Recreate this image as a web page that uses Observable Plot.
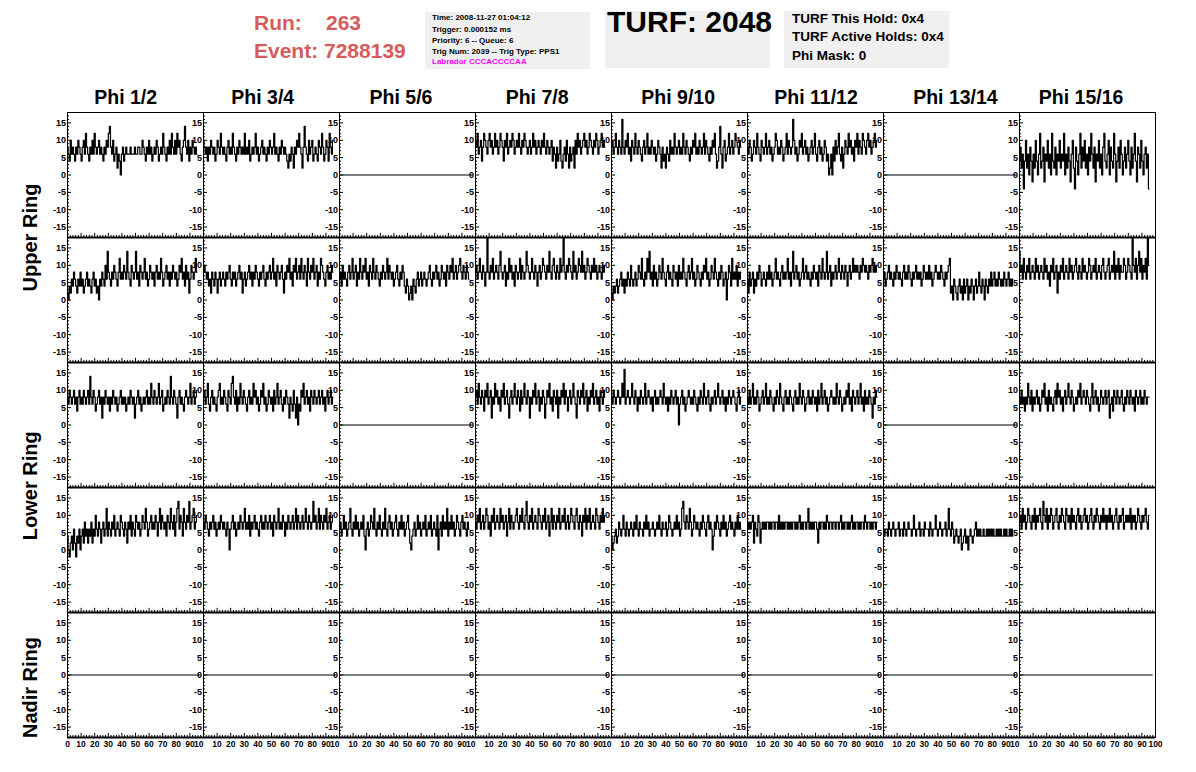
<!DOCTYPE html>
<html><head><meta charset="utf-8">
<script src="https://cdn.jsdelivr.net/npm/d3@7"></script>
<script src="https://cdn.jsdelivr.net/npm/@observablehq/plot@0.6"></script>
<style>
body{margin:0;background:#fff;font-family:"Liberation Sans",Arial,Helvetica,sans-serif;}
#wrap{position:relative;width:1196px;height:772px;overflow:hidden;background:#fff;}
#wrap svg{position:absolute;left:0;top:0;}
.abs{position:absolute;white-space:pre;font-weight:bold;line-height:1;}
.box{position:absolute;background:#f0f0f0;}
.run{color:#d65c5c;font-size:21px;}
.info{font-size:8px;color:#000;}
.turf{font-size:30px;color:#000;}
.hold{font-size:13.5px;color:#000;}
</style></head><body>
<div id="wrap">
  <div class="abs run" style="left:254px;top:12px">Run:</div>
  <div class="abs run" style="left:326px;top:12px">263</div>
  <div class="abs run" style="left:254px;top:40px">Event: 7288139</div>
  <div class="box" style="left:425px;top:12px;width:165px;height:57px"></div>
  <div class="abs info" style="left:432px;top:14px">Time: 2008-11-27 01:04:12</div>
  <div class="abs info" style="left:432px;top:25.5px">Trigger: 0.000152 ms</div>
  <div class="abs info" style="left:432px;top:37px">Priority: 6 -- Queue: 6</div>
  <div class="abs info" style="left:432px;top:48px">Trig Num: 2039 -- Trig Type: PPS1</div>
  <div class="abs info" style="left:432px;top:57.5px;color:#ff00ff">Labrador CCCACCCCAA</div>
  <div class="box" style="left:605px;top:11px;width:165px;height:57px"></div>
  <div class="abs turf" style="left:607px;top:6.5px">TURF: 2048</div>
  <div class="box" style="left:784px;top:11px;width:165px;height:57px"></div>
  <div class="abs hold" style="left:792px;top:12px">TURF This Hold: 0x4</div>
  <div class="abs hold" style="left:792px;top:30.3px">TURF Active Holds: 0x4</div>
  <div class="abs hold" style="left:792px;top:48.6px">Phi Mask: 0</div>
</div>
<script>
// ---------------- data ----------------
const columns = ["Phi 1/2","Phi 3/4","Phi 5/6","Phi 7/8","Phi 9/10","Phi 11/12","Phi 13/14","Phi 15/16"];
const ringLabels = ["Upper Ring","Lower Ring","Nadir Ring"];
const yTickValues = [-15,-10,-5,0,5,10,15];
const xTickValues = [0,10,20,30,40,50,60,70,80,90,100];
const sampleStep = 0.8;       // ns per sample
const deadChannelEnd = 97.6;  // length of a dead (flat) channel trace

// Upper ring, first row of panels (null = dead channel, flat at 0)
const upperTopWaves = [
`8 6 4 10 6 8 6 4 8 6 10 8 6 4 8 10 6 12 8 6
4 8 6 10 6 12 8 6 8 10 6 8 6 4 8 6 10 8 12 14
8 6 10 4 6 8 2 6 4 0 6 8 4 6 8 6 6 6 8 6
6 6 8 6 6 8 8 6 6 10 8 6 4 8 6 10 6 8 4 6
8 6 10 8 4 6 8 6 12 8 6 4 8 6 10 6 12 8 6 10
6 12 8 10 6 4 8 10 14 8 6 10 4 8 6 10 8 6 8 6`,
`10 8 6 8 4 8 6 10 8 6 8 4 6 10 8 6 12 8 6 8
6 4 8 10 6 8 6 12 8 6 4 8 6 10 8 6 8 6 12 6
8 6 10 4 6 8 6 8 12 6 8 4 6 8 10 6 8 6 4 8
6 10 8 6 8 12 6 8 6 4 8 6 10 8 6 8 6 4 2 6
4 8 6 2 8 6 10 8 12 8 6 2 8 14 8 6 4 10 6 8
10 4 6 8 6 4 10 8 6 12 8 4 6 10 8 4 12 8 6 10`,
null,
`10 8 12 6 8 10 4 8 12 10 8 6 10 12 8 10 6 8 12 8
10 6 8 12 10 8 4 10 8 12 6 8 10 8 12 10 6 8 10 8
12 8 6 10 8 12 10 8 6 8 10 6 8 12 8 10 6 8 10 8
6 10 8 12 8 6 10 8 6 8 10 4 8 6 2 8 4 6 10 4
2 6 8 4 10 6 2 8 4 6 8 2 10 6 12 8 10 6 8 10
12 8 10 6 8 12 10 8 6 10 8 12 10 6 8 10 12 8 10 8`,
`8 10 6 8 12 8 6 10 8 6 16 8 6 10 8 12 6 8 4 10
8 6 12 8 6 10 8 6 4 8 10 6 8 12 6 8 6 10 8 6
8 4 6 10 8 6 2 8 4 6 2 8 6 4 10 6 8 6 12 8
6 8 10 6 8 6 12 8 6 10 8 6 4 8 6 10 8 12 6 8
6 10 8 6 8 12 6 10 8 6 4 8 6 10 8 12 6 2 4 8
14 6 2 8 10 4 6 8 12 6 8 10 6 8 12 10 8 6 10 8`,
`8 6 10 8 4 6 10 8 6 12 8 6 4 10 8 6 8 12 6 8
10 6 8 4 6 8 12 10 6 8 6 10 8 4 6 8 12 6 10 8
6 8 16 10 6 8 4 6 10 8 12 6 8 10 6 8 4 6 8 10
6 8 12 6 4 8 10 6 8 4 6 10 8 4 6 0 2 6 0 8
4 10 6 8 12 6 4 8 2 6 10 8 6 12 8 10 6 8 4 10
8 12 6 10 8 6 12 10 8 6 10 12 8 10 6 8 10 12 8 10`,
null,
`4 8 2 6 -4 4 10 2 6 0 8 4 -2 6 2 10 4 0 6 12
2 4 8 -2 6 4 10 2 6 0 12 4 2 8 0 6 4 10 2 6
4 12 0 6 2 8 4 -2 6 10 2 -4 8 4 0 6 12 2 8 4
10 2 6 0 8 4 12 6 2 8 -2 6 4 10 2 6 0 8 12 4
2 6 10 0 8 4 2 12 6 -2 4 8 2 10 6 0 4 8 2 6
10 4 0 8 2 6 12 4 -2 8 6 2 10 4 0 6 8 2 6 -4`
];

// Upper ring, second row of panels
const upperBottomWaves = [
`2 0 4 2 6 4 8 6 4 2 6 4 8 4 6 2 4 6 8 4
6 4 2 6 8 4 6 2 4 0 6 4 8 6 4 10 6 14 8 6
4 8 6 10 8 6 4 8 12 6 8 6 10 8 6 14 8 6 4 10
8 6 8 14 6 8 4 10 8 6 8 12 6 8 4 6 10 8 6 8
4 8 10 6 8 6 12 8 4 6 8 10 6 8 4 8 6 10 8 6
8 4 6 10 8 12 6 8 4 10 6 8 2 6 10 8 6 8 12 8`,
`8 10 8 6 8 4 6 2 8 6 4 8 6 2 6 8 4 6 8 6
4 8 6 8 10 6 4 8 6 8 4 6 8 10 6 8 2 6 8 4
6 8 10 6 8 4 8 6 10 8 6 4 8 6 8 10 6 4 8 6
8 10 6 8 12 6 8 4 10 8 6 8 10 6 2 8 6 10 8 12
6 8 4 10 8 12 6 8 10 6 12 8 6 10 8 4 12 8 6 10
8 12 6 8 10 4 8 6 12 10 8 6 4 8 10 6 8 6 10 8`,
`6 8 4 10 6 8 6 4 8 10 6 8 12 6 8 10 4 8 6 12
8 6 10 8 12 6 8 4 10 8 6 12 8 6 10 8 6 4 8 6
10 8 6 8 12 6 10 8 6 8 4 6 8 10 6 4 8 6 10 8
4 2 6 4 0 2 4 0 6 4 2 6 8 4 6 8 4 6 8 6
4 6 8 10 6 4 8 6 8 10 6 8 4 6 10 8 6 8 4 10
8 6 10 8 12 6 8 10 6 8 10 12 8 6 10 8 6 10 8 6`,
`8 10 6 8 12 8 6 10 8 4 8 18 8 6 10 8 12 6 8 10
8 6 10 14 8 6 8 10 4 8 6 12 8 10 6 8 4 10 8 6
8 12 6 10 8 6 8 14 10 8 6 8 12 8 6 10 8 4 8 10
6 8 12 10 8 6 10 8 14 8 6 10 12 8 6 10 8 6 12 8
10 18 8 6 10 8 12 10 8 6 14 8 10 6 8 12 10 8 14 8
10 6 8 12 10 8 6 10 8 12 8 10 6 8 10 8 6 10 8 10`,
`2 0 4 2 4 6 2 4 6 8 4 6 2 6 4 8 6 4 10 6
4 6 8 4 6 10 8 6 12 6 4 8 6 12 8 14 6 8 4 10
6 8 4 6 10 8 6 12 8 6 4 8 10 6 8 6 4 10 8 6
8 4 10 6 8 6 12 8 6 4 8 10 6 8 12 6 8 4 6 10
8 6 4 8 6 10 8 12 6 8 4 6 10 8 6 12 8 6 4 8
6 10 8 4 6 8 0 6 10 8 4 12 6 8 6 10 4 8 6 8`,
`6 2 8 4 6 8 2 6 4 8 6 10 8 4 6 8 6 4 8 6
10 6 8 4 6 8 12 6 8 6 4 8 10 6 8 6 8 12 6 8
4 8 14 6 8 10 6 8 4 6 8 12 6 8 10 6 8 6 4 8
6 10 8 6 8 4 10 8 6 12 8 6 8 14 6 8 10 4 8 6
8 10 6 8 12 8 6 10 8 6 10 8 4 8 10 6 8 12 8 10
8 10 8 6 10 8 12 10 8 10 8 6 10 8 10 12 8 10 8 10`,
`6 8 4 6 8 10 6 8 6 4 8 6 10 8 6 8 6 4 8 10
6 8 6 10 8 6 4 8 6 8 10 6 8 6 8 4 6 10 8 6
8 6 10 6 8 4 6 8 10 8 6 8 6 10 8 6 4 8 6 8
10 12 2 4 0 6 4 2 0 4 6 2 4 0 6 2 4 6 0 4
2 6 4 0 4 6 2 4 8 4 2 6 4 0 6 4 2 6 4 8
4 6 8 4 6 4 8 6 4 6 4 8 6 4 6 8 4 6 4 6`,
`14 8 10 6 12 8 6 10 8 12 6 8 10 8 6 12 8 10 6 8
10 8 6 12 8 10 6 8 4 10 8 12 6 8 10 2 8 6 10 8
12 6 8 10 8 6 12 8 10 6 8 10 12 8 6 10 8 6 12 8
10 8 6 8 12 10 6 8 10 8 12 6 8 10 8 6 10 12 8 6
8 10 12 6 8 10 8 14 6 10 8 12 6 10 8 8 12 10 6 8
12 10 8 6 18 10 8 12 6 10 14 8 12 6 10 8 12 6 18 10`
];

// Lower ring, first row of panels
const lowerTopWaves = [
`8 6 10 8 6 8 10 6 8 4 8 10 6 8 6 10 8 6 8 10
6 14 8 6 10 8 4 6 8 10 6 8 2 8 6 10 8 6 8 4
8 6 10 8 6 8 4 6 8 10 6 8 6 8 4 6 8 6 10 8
6 8 2 6 8 10 6 8 4 6 8 6 8 10 6 8 6 12 8 6
10 8 6 8 12 6 8 10 4 6 8 6 10 8 6 14 8 6 10 8
6 2 8 10 6 8 6 4 8 10 8 6 8 12 6 8 10 6 8 10`,
`8 10 6 8 12 6 4 8 10 6 8 6 4 8 10 12 6 8 6 10
8 6 4 10 8 6 12 14 8 6 10 4 8 6 12 8 6 10 8 6
4 8 10 6 8 6 12 8 10 6 8 4 6 10 8 12 6 8 4 6
10 8 6 8 4 10 6 8 12 6 8 10 6 4 8 6 10 8 6 2
8 6 4 10 6 2 8 0 6 4 10 8 12 6 8 10 6 8 4 10
8 6 10 8 6 8 10 6 8 10 6 8 4 8 10 6 8 10 6 8`,
null,
`8 10 6 12 8 6 10 8 4 10 8 12 6 8 10 2 8 6 12 8
10 6 8 4 10 8 12 6 8 10 6 2 8 10 6 8 12 8 6 10
8 4 10 6 8 12 8 6 10 8 2 8 6 10 8 12 6 8 10 4
8 6 10 8 2 6 10 8 12 6 8 4 10 8 6 10 2 8 6 10
8 12 6 10 8 4 8 10 6 8 12 8 6 2 10 8 6 10 8 12
6 8 10 4 8 6 10 8 12 6 8 10 6 8 4 10 8 6 10 8`,
`8 6 10 8 6 8 10 8 6 8 12 8 16 6 8 10 8 6 8 12
8 6 10 8 4 8 6 10 8 6 8 12 6 8 10 8 6 8 4 8
10 6 8 6 8 10 8 6 12 8 6 8 4 8 6 10 8 6 8 10
6 8 0 6 8 10 6 8 4 6 8 10 8 6 8 6 10 8 6 4
8 6 10 8 6 12 8 6 8 10 6 4 8 6 8 10 6 8 12 8
6 8 10 6 8 4 8 6 10 8 6 8 10 8 6 4 8 10 6 8`,
`8 6 10 6 8 12 6 8 6 10 8 4 6 8 10 6 8 12 6 8
6 10 8 6 4 8 6 10 8 6 12 8 6 4 8 10 6 8 6 10
8 6 4 8 10 6 8 6 12 8 6 10 8 4 6 8 10 6 8 6
10 8 6 8 4 10 6 8 12 6 8 10 6 8 4 6 8 10 8 6
8 6 12 8 6 10 8 4 6 8 6 10 8 12 6 8 4 10 8 6
8 10 6 8 12 6 8 4 10 6 8 6 10 8 6 2 8 6 10 8`,
null,
`8 6 10 6 8 4 8 6 12 8 6 10 4 8 6 8 10 6 8 4
6 10 8 12 6 8 4 10 6 8 6 4 8 10 6 12 8 10 6 8
4 8 10 6 8 12 8 6 10 8 4 6 8 6 10 8 12 6 8 10
8 6 10 8 6 4 8 12 6 8 10 6 8 4 6 10 8 6 8 10
6 8 10 2 6 8 4 10 8 6 10 8 6 8 10 6 4 8 6 10
8 6 10 8 6 8 4 10 8 6 8 10 6 8 6 10 8 6 8 8`
];

// Lower ring, second row of panels
const lowerBottomWaves = [
`4 0 -2 2 4 0 6 2 -2 4 2 6 0 4 6 2 8 4 6 2
6 4 8 2 6 4 10 6 4 8 6 2 6 8 4 6 12 4 8 6
4 8 6 10 4 6 8 6 4 10 8 6 4 8 6 2 8 6 10 4
8 6 4 10 8 6 8 4 6 10 8 6 12 8 4 6 8 10 6 8
6 10 8 4 8 12 6 10 8 6 8 4 10 8 6 12 8 6 10 4
8 12 14 6 10 8 4 12 8 6 10 8 14 6 8 10 12 6 8 10`,
`8 6 10 8 6 4 8 6 8 10 6 8 4 6 8 6 10 8 6 8
6 4 8 6 0 6 8 10 6 8 4 6 8 6 10 8 6 8 12 6
8 6 10 4 8 6 8 10 6 8 6 4 8 10 6 8 6 10 8 6
8 10 6 8 4 10 8 6 8 12 6 8 6 10 8 4 8 6 10 8
6 8 10 6 8 12 6 10 8 6 8 10 6 8 12 8 6 10 8 6
8 14 8 10 6 8 12 6 10 8 6 10 8 12 6 8 10 6 8 10`,
`6 8 4 6 10 6 8 4 6 8 12 6 4 8 6 10 6 8 4 6
8 6 10 4 0 6 8 4 6 10 8 6 12 6 4 8 6 10 6 4
8 6 12 6 4 8 10 6 8 4 6 8 10 6 4 8 6 10 6 8
4 6 8 10 6 2 0 4 6 8 4 6 10 6 8 4 6 8 6 10
4 6 8 6 10 4 6 8 6 4 10 0 6 8 4 10 6 8 6 12
4 8 6 10 6 8 4 6 10 8 6 4 8 10 6 8 6 4 8 6`,
`8 6 10 8 12 6 8 10 6 8 12 10 6 8 4 10 8 12 6 8
10 8 6 12 8 10 6 8 10 4 8 12 6 10 8 6 8 10 12 8
6 10 8 12 8 6 10 14 8 6 10 8 12 6 8 10 8 6 12 10
8 6 10 8 12 6 8 10 4 8 12 6 10 8 6 10 8 12 6 8
10 8 12 6 8 10 6 8 12 10 8 6 10 12 8 6 10 8 4 10
8 12 6 10 8 12 6 8 10 8 6 12 10 8 6 10 8 12 8 10`,
`4 0 2 4 6 2 4 8 6 4 6 10 6 4 8 6 4 6 8 6
4 8 6 10 6 4 8 6 6 4 8 6 10 6 8 4 6 6 8 6
4 6 8 6 10 6 4 8 6 6 8 4 6 10 8 6 4 6 8 6
10 6 8 4 6 12 14 8 6 10 8 6 12 8 4 6 10 8 6 8
6 4 8 6 10 8 6 4 8 10 6 8 6 0 4 8 6 10 8 6
4 8 6 10 6 8 4 6 8 10 6 8 6 4 8 6 10 6 8 6`,
`8 6 8 6 8 10 2 8 6 4 10 8 2 6 8 6 8 6 8 8
6 8 6 8 8 6 8 8 6 10 6 8 6 8 6 8 8 6 8 6
8 6 8 8 6 8 6 8 10 6 8 6 8 8 6 8 12 6 8 6
8 6 8 8 6 2 8 6 8 8 6 8 6 10 8 6 8 8 6 8
8 6 8 8 6 8 10 6 8 6 8 8 6 8 6 8 10 6 8 6
8 8 6 8 6 8 8 6 10 8 6 8 8 6 8 6 8 8 6 8`,
`6 4 6 6 4 8 6 4 6 8 6 4 6 6 8 4 6 6 4 8
6 4 6 8 6 6 4 6 10 6 4 6 6 8 4 6 6 4 8 6
6 6 4 8 6 4 6 6 10 6 4 6 8 6 4 6 6 8 4 6
12 6 4 8 6 2 4 6 4 2 4 6 0 2 4 6 2 4 0 4
6 4 2 4 6 8 4 6 4 6 4 4 6 4 4 6 4 6 4 6
4 6 4 4 6 4 6 4 6 4 4 6 4 6 4 4 6 4 6 4`,
`8 10 6 12 8 10 6 8 12 10 8 6 10 8 12 6 10 8 10 12
8 6 14 10 8 12 6 10 8 12 10 6 8 10 12 8 6 10 8 12
10 8 6 12 10 8 10 6 12 8 10 8 6 10 12 8 10 6 8 10
12 8 10 6 8 10 12 8 6 10 8 12 10 8 6 10 8 12 8 10
6 10 8 12 8 10 6 8 10 12 8 6 10 8 10 12 6 8 10 8
10 8 12 6 10 8 10 6 8 12 10 8 6 10 8 10 12 8 6 10`
];

// Nadir ring: all channels dead
const nadirWaves = [null, null, null, null, null, null, null, null];

// ---------------- layout (not data) ----------------
const rowsOfWaves = [upperTopWaves, upperBottomWaves, lowerTopWaves, lowerBottomWaves, nadirWaves];
const titleX = [42.8, 43.6, 45.2, 45.3, 49, 50.4, 52.9, 45.3];   // title centres in panel x units
const ringLabelLayout = [
  {name: ringLabels[0], row: 0, y: -18},
  {name: ringLabels[1], row: 2, y: -17.5},
  {name: ringLabels[2], row: 4, y: -3.6}
];

const points = [];
rowsOfWaves.forEach((waves, r) => waves.forEach((w, c) => {
  const key = r + "-" + c;
  if (w) {
    w.trim().split(/\s+/).map(Number).forEach((v, i) =>
      points.push({col: columns[c], row: r, t: i * sampleStep, v, key}));
  } else {
    points.push({col: columns[c], row: r, t: 0, v: 0, key});
    points.push({col: columns[c], row: r, t: deadChannelEnd, v: 0, key});
  }
}));

const yMinor = d3.range(-17, 18).filter(d => d % 5 !== 0);
const xMinor = d3.range(0, 101, 2).filter(d => d % 10 !== 0);

const xLabelCentered = [], xLabelClipped = [];
columns.forEach((col, c) => xTickValues.forEach(t => {
  if (t === 0 && c > 0) return;
  if (t === 100 && c < columns.length - 1) { xLabelClipped.push({col, t, text: "10"}); return; }
  xLabelCentered.push({col, t, text: String(t)});
}));

const lab = {fontSize: 9, fontWeight: "bold", fill: "black"};
const xlab = {fontSize: 8.5, fontWeight: "bold", fill: "black", letterSpacing: "-0.4px"};

const chart = Plot.plot({
  width: 1196, height: 772,
  marginLeft: 63, marginRight: 38, marginTop: 112, marginBottom: 35,
  style: {fontFamily: "Liberation Sans, Arial, Helvetica, sans-serif", background: "transparent", overflow: "visible"},
  x: {domain: [0, 100], axis: null},
  y: {domain: [-18, 18], axis: null},
  fx: {domain: columns, padding: 0, axis: null},
  fy: {domain: [0, 1, 2, 3, 4], padding: 0, axis: null},
  marks: [
    Plot.line(points, {x: "t", y: "v", fx: "col", fy: "row", z: "key", curve: "step", stroke: "black", strokeWidth: 1.2}),
    Plot.frame({stroke: "black", strokeWidth: 1}),
    Plot.ruleY([-18], {stroke: "black", strokeWidth: 2}),
    Plot.ruleY(yTickValues, {y: d => d, x1: 0, x2: 3, stroke: "black"}),
    Plot.ruleY(yMinor, {y: d => d, x1: 0, x2: 1.5, stroke: "black"}),
    Plot.ruleX(xTickValues, {x: d => d, y1: -18, y2: -16.8, stroke: "black"}),
    Plot.ruleX(xMinor, {x: d => d, y1: -18, y2: -17.4, stroke: "black"}),
    Plot.text(yTickValues, {x: 0, y: d => d, text: d => String(d), textAnchor: "end", dx: -1.5, ...lab}),
    Plot.text(xLabelCentered, {fx: "col", fy: () => 4, x: "t", y: -18, dy: 7, text: "text", ...xlab}),
    Plot.text(xLabelClipped, {fx: "col", fy: () => 4, x: "t", y: -18, dy: 7, text: "text", textAnchor: "end", dx: 0, ...xlab}),
    Plot.text(columns, {fx: d => d, fy: () => 0, x: (d, i) => titleX[i], y: 18, dy: -14.7, text: d => d, fontSize: 19.5, fontWeight: "bold", fill: "black"}),
    Plot.text(ringLabelLayout, {fx: () => columns[0], fy: d => d.row, x: 0, y: d => d.y, dx: -36.5, rotate: -90, text: d => d.name, fontSize: 20, fontWeight: "bold", fill: "black"})
  ]
});
document.getElementById("wrap").prepend(chart);
</script>
</body></html>
